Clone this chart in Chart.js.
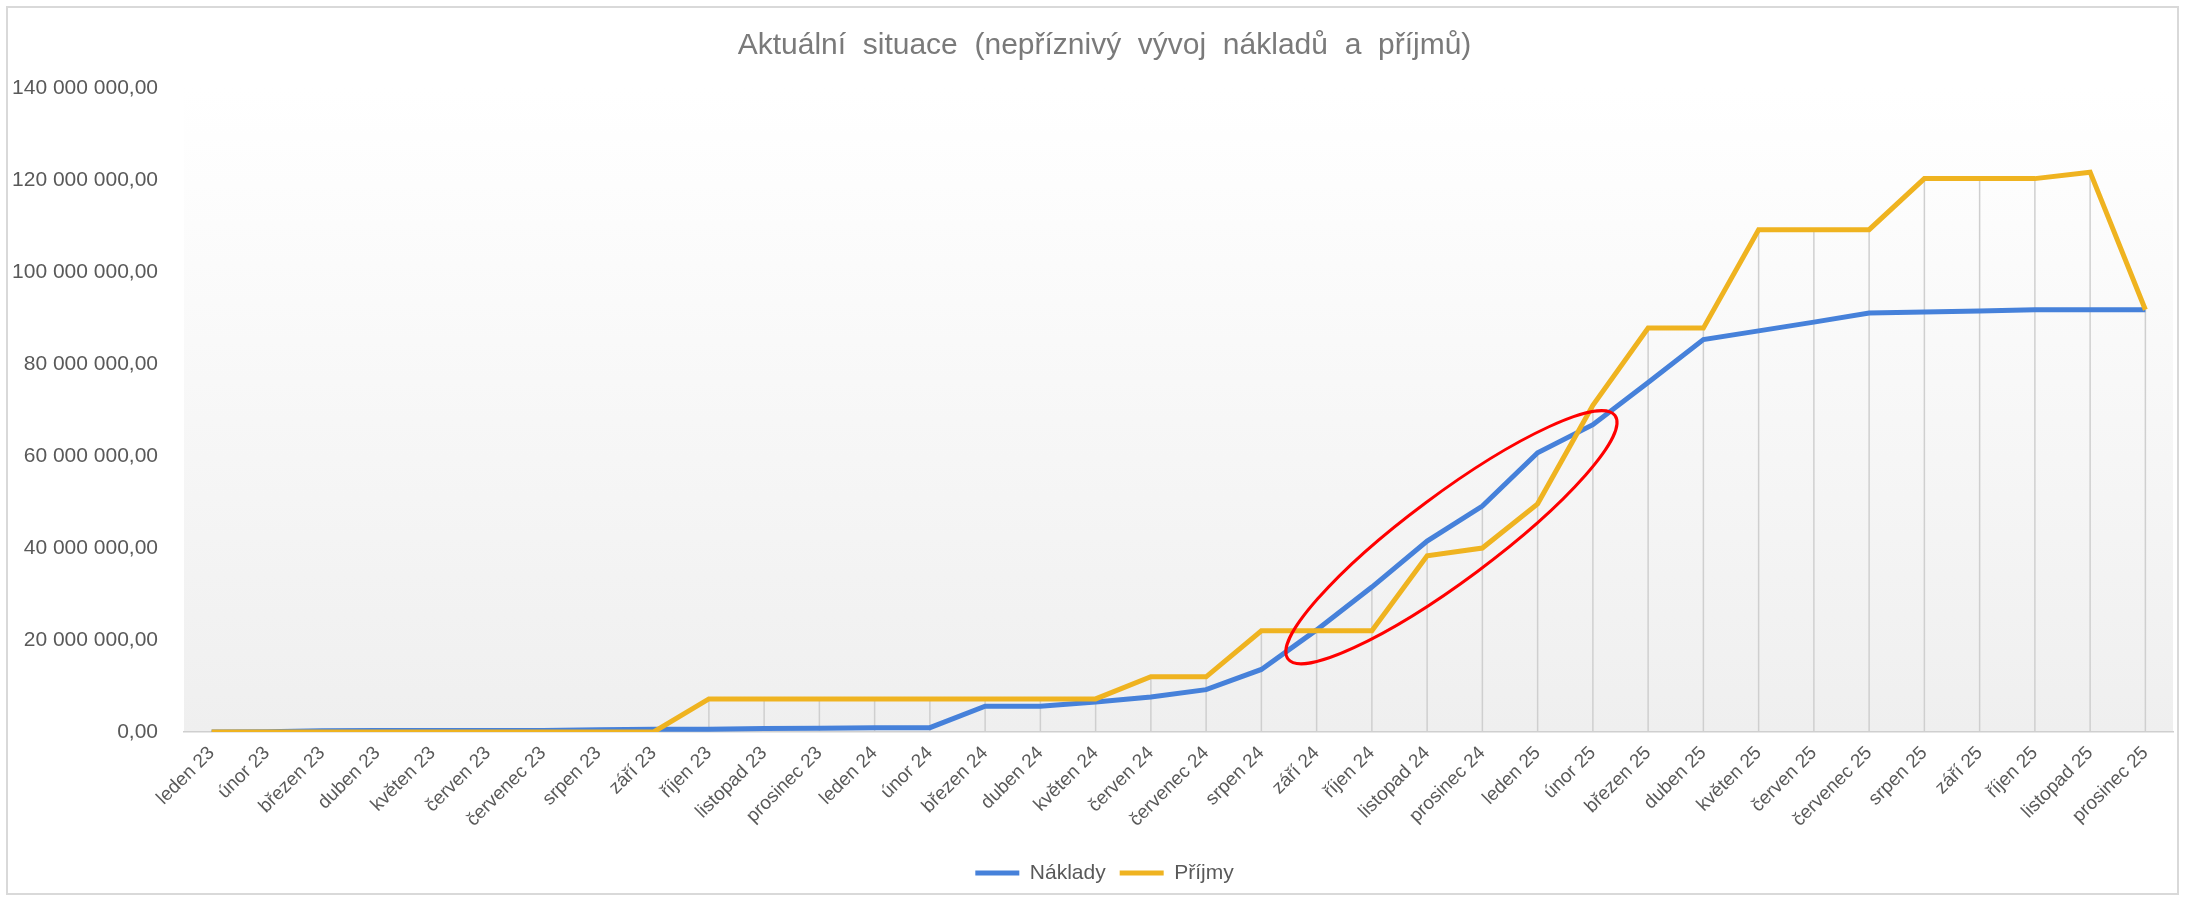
<!DOCTYPE html>
<html lang="cs">
<head>
<meta charset="utf-8">
<title>Aktuální situace</title>
<script src="https://cdn.jsdelivr.net/npm/chart.js@4.4.1/dist/chart.umd.min.js"></script>
<style>
  html, body { margin: 0; padding: 0; background: #fff; }
  canvas { display: block; }
</style>
</head>
<body>
<canvas id="chart" width="2185" height="897"></canvas>
<script>
// kategorie (měsíce)
const labels = [
  'leden 23', 'únor 23', 'březen 23', 'duben 23', 'květen 23', 'červen 23',
  'červenec 23', 'srpen 23', 'září 23', 'říjen 23', 'listopad 23', 'prosinec 23',
  'leden 24', 'únor 24', 'březen 24', 'duben 24', 'květen 24', 'červen 24',
  'červenec 24', 'srpen 24', 'září 24', 'říjen 24', 'listopad 24', 'prosinec 24',
  'leden 25', 'únor 25', 'březen 25', 'duben 25', 'květen 25', 'červen 25',
  'červenec 25', 'srpen 25', 'září 25', 'říjen 25', 'listopad 25', 'prosinec 25'
];

// hodnoty (Kč)
const naklady = [
  0, 50000, 250000, 300000, 300000, 300000,
  350000, 500000, 600000, 600000, 750000, 800000,
  900000, 950000, 5600000, 5600000, 6500000, 7600000,
  9200000, 13600000, 22200000, 31500000, 41500000, 49100000,
  60700000, 66800000, 76000000, 85300000, 87200000, 89100000,
  91100000, 91300000, 91500000, 91800000, 91800000, 91800000
];
const prijmy = [
  0, 0, 0, 0, 0, 0,
  0, 0, 0, 7200000, 7200000, 7200000,
  7200000, 7200000, 7200000, 7200000, 7200000, 12000000,
  12000000, 22000000, 22000000, 22000000, 38300000, 40000000,
  49600000, 71000000, 87800000, 87800000, 109200000, 109200000,
  109200000, 120300000, 120300000, 120300000, 121700000, 91800000
];

const yTicks = [0, 20000000, 40000000, 60000000, 80000000, 100000000, 120000000, 140000000];

// červená elipsa: konce hlavní osy v hodnotách os (index kategorie, Kč)
const highlightFrom = [19.48, 15900000];
const highlightTo = [25.4, 68800000];

const FONT = '"Liberation Sans", Arial, sans-serif';

function fmt(v) {
  const s = Math.round(v).toString().replace(/\B(?=(\d{3})+(?!\d))/g, ' ');
  return s + ',00';
}

const background = {
  id: 'background',
  afterLayout(chart) {
    // titulek a legenda jsou v Excelu vystředěny nad celým rámečkem
    chart.titleBlock.left = 36;
    chart.legend.left = 36;
  },
  beforeDraw(chart) {
    const { ctx, chartArea: a } = chart;
    ctx.save();
    ctx.fillStyle = '#ffffff';
    ctx.fillRect(0, 0, chart.width, chart.height);
    const g = ctx.createLinearGradient(0, a.top, 0, a.bottom);
    g.addColorStop(0, '#ffffff');
    g.addColorStop(0.15, '#fdfdfd');
    g.addColorStop(1, '#efefef');
    ctx.fillStyle = g;
    ctx.fillRect(a.left, a.top, a.right - a.left, a.bottom - a.top);
    ctx.restore();
  },
  afterDraw(chart) {
    const { ctx } = chart;
    ctx.save();
    ctx.strokeStyle = '#d9d9d9';
    ctx.lineWidth = 2;
    ctx.strokeRect(7, 7, chart.width - 14, chart.height - 10);
    ctx.restore();
  }
};

// svislé spojnice od bodu k ose (jako v Excelu)
const dropLines = {
  id: 'dropLines',
  beforeDatasetsDraw(chart) {
    const { ctx, chartArea: a } = chart;
    const metas = chart.data.datasets.map((d, i) => chart.getDatasetMeta(i));
    ctx.save();
    ctx.strokeStyle = '#cfcfcf';
    ctx.lineWidth = 1.5;
    metas[0].data.forEach((pt, i) => {
      const top = Math.min(...metas.map(m => m.data[i].y));
      ctx.beginPath();
      ctx.moveTo(pt.x, top);
      ctx.lineTo(pt.x, a.bottom);
      ctx.stroke();
    });
    ctx.restore();
  }
};

const ellipse = {
  id: 'ellipse',
  afterDatasetsDraw(chart) {
    const { ctx, scales: { x, y } } = chart;
    const x1 = x.getPixelForValue(highlightFrom[0]), y1 = y.getPixelForValue(highlightFrom[1]);
    const x2 = x.getPixelForValue(highlightTo[0]), y2 = y.getPixelForValue(highlightTo[1]);
    const cx = (x1 + x2) / 2, cy = (y1 + y2) / 2;
    const rx = Math.hypot(x2 - x1, y2 - y1) / 2;
    const rot = Math.atan2(y2 - y1, x2 - x1);
    ctx.save();
    ctx.strokeStyle = '#ff0000';
    ctx.lineWidth = 3;
    ctx.beginPath();
    ctx.ellipse(cx, cy, rx, 43, rot, 0, Math.PI * 2);
    ctx.stroke();
    ctx.restore();
  }
};

new Chart(document.getElementById('chart'), {
  type: 'line',
  data: {
    labels: labels,
    datasets: [
      {
        label: 'Náklady',
        data: naklady,
        borderColor: '#4681da',
        backgroundColor: '#4681da',
        borderWidth: 5,
        pointRadius: 0,
        pointHoverRadius: 0,
        pointBorderWidth: 5,
        pointBorderColor: '#4681da',
        tension: 0,
        order: 1
      },
      {
        label: 'Příjmy',
        data: prijmy,
        borderColor: '#efb320',
        backgroundColor: '#efb320',
        borderWidth: 5,
        pointRadius: 0,
        pointHoverRadius: 0,
        pointBorderWidth: 5,
        pointBorderColor: '#efb320',
        tension: 0,
        order: 0
      }
    ]
  },
  options: {
    responsive: false,
    animation: false,
    layout: { padding: { left: 0, right: 12, top: 0, bottom: 3.5 } },
    plugins: {
      title: {
        display: true,
        text: 'Aktuální  situace  (nepříznivý  vývoj  nákladů  a  příjmů)',
        color: '#7a7a7a',
        font: { family: FONT, size: 30, weight: 'normal' },
        padding: { top: 28, bottom: 24 }
      },
      legend: {
        position: 'bottom',
        labels: {
          sort: (a, b) => a.datasetIndex - b.datasetIndex,
          usePointStyle: true,
          pointStyle: 'line',
          pointStyleWidth: 44,
          color: '#595959',
          font: { family: FONT, size: 21 },
          padding: 14
        }
      },
      tooltip: { enabled: false }
    },
    scales: {
      x: {
        offset: true,
        grid: { display: false, drawTicks: false },
        border: { display: true, color: '#cfcfcf', width: 1.5 },
        ticks: {
          autoSkip: false,
          maxRotation: 45,
          minRotation: 45,
          color: '#595959',
          font: { family: FONT, size: 19 },
          padding: 10
        },
        afterFit(s) { s.height = 116.5; }
      },
      y: {
        min: 0,
        max: 140000000,
        grid: { display: false },
        border: { display: false },
        afterBuildTicks(s) { s.ticks = yTicks.map(v => ({ value: v })); },
        ticks: {
          callback: fmt,
          color: '#595959',
          font: { family: FONT, size: 21 },
          padding: 18
        },
        afterFit(s) { s.width = 184; }
      }
    }
  },
  plugins: [background, dropLines, ellipse]
});
</script>
</body>
</html>
